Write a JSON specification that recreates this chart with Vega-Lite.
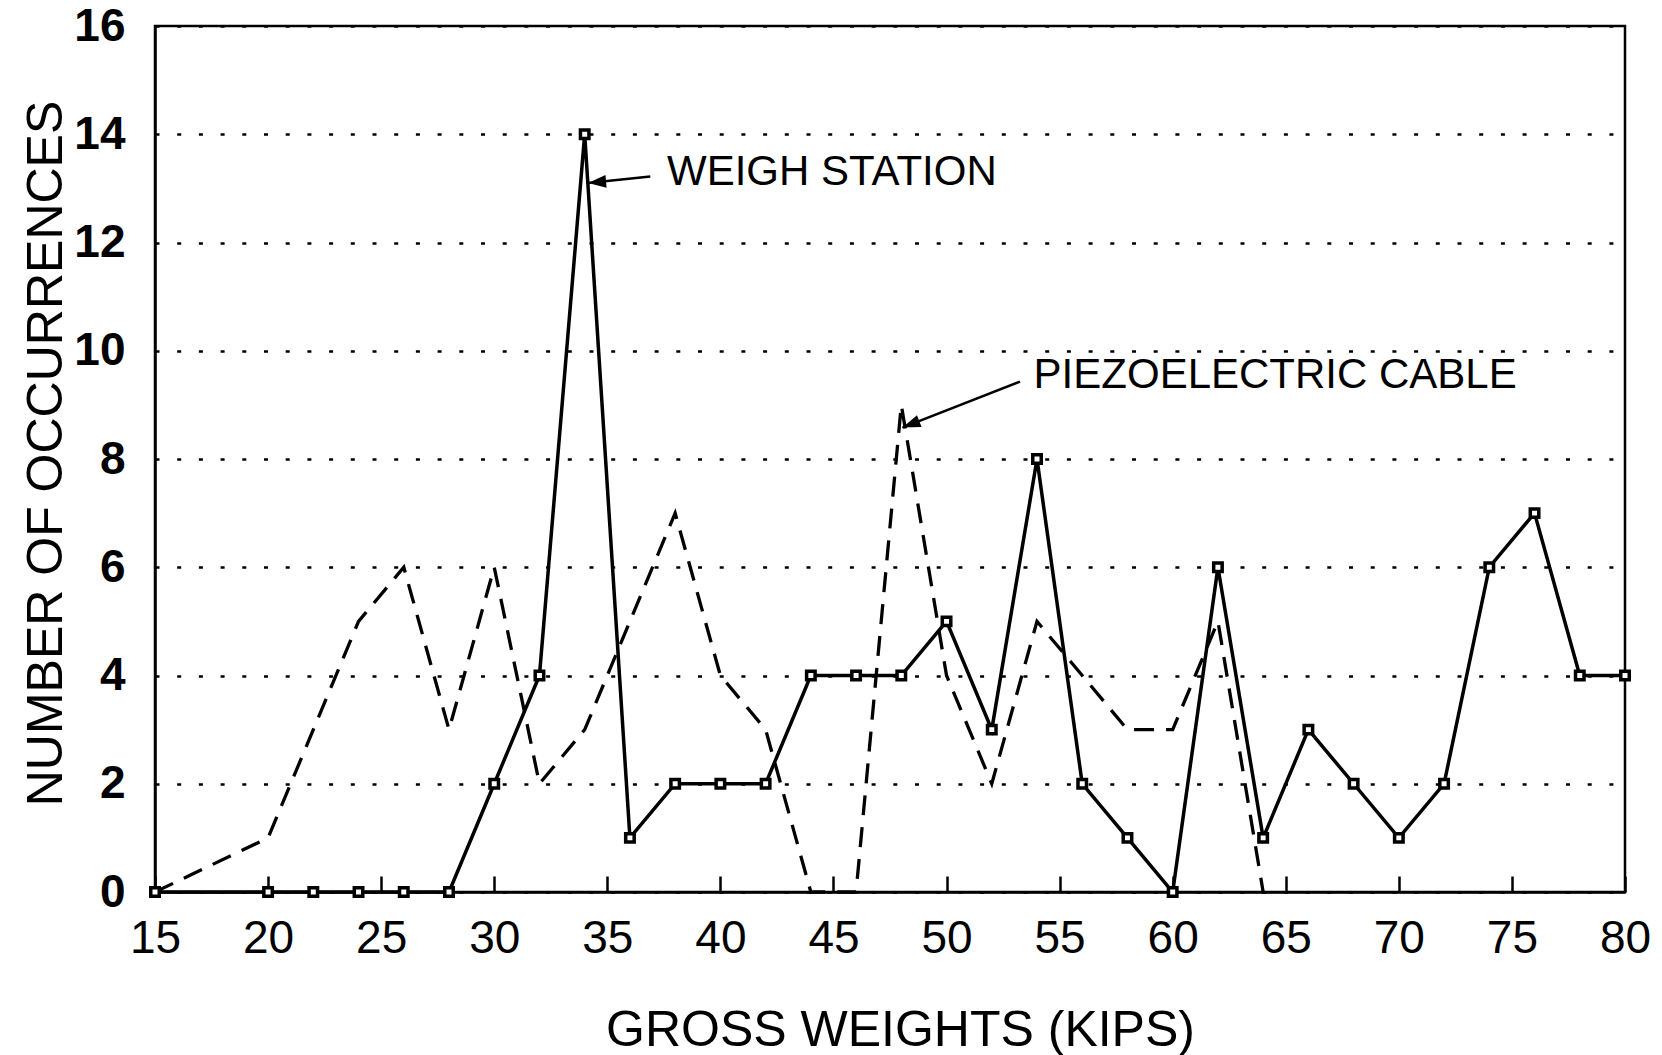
{
  "$schema": "https://vega.github.io/schema/vega-lite/v6.json",
  "width": 1470,
  "height": 866,
  "autosize": {"type": "none"},
  "padding": {"left": 155, "top": 26, "right": 37, "bottom": 163},
  "background": "white",
  "config": {
    "view": {"stroke": "black", "strokeWidth": 2.5},
    "font": "Liberation Sans",
    "axis": {
      "labelFont": "Liberation Sans",
      "titleFont": "Liberation Sans",
      "labelColor": "black",
      "titleColor": "black",
      "domainColor": "black",
      "domainWidth": 2.5,
      "labelFontSize": 46,
      "titleFontSize": 50,
      "titleFontWeight": "normal"
    }
  },
  "datasets": {
    "series": [
      {"src": "pc", "x": 15, "y": 0}, {"src": "pc", "x": 20, "y": 1}, {"src": "pc", "x": 22, "y": 3},
      {"src": "pc", "x": 24, "y": 5}, {"src": "pc", "x": 26, "y": 6}, {"src": "pc", "x": 28, "y": 3},
      {"src": "pc", "x": 30, "y": 6}, {"src": "pc", "x": 32, "y": 2}, {"src": "pc", "x": 34, "y": 3},
      {"src": "pc", "x": 36, "y": 5}, {"src": "pc", "x": 38, "y": 7}, {"src": "pc", "x": 40, "y": 4},
      {"src": "pc", "x": 42, "y": 3}, {"src": "pc", "x": 44, "y": 0}, {"src": "pc", "x": 46, "y": 0},
      {"src": "pc", "x": 48, "y": 9}, {"src": "pc", "x": 50, "y": 4}, {"src": "pc", "x": 52, "y": 2},
      {"src": "pc", "x": 54, "y": 5}, {"src": "pc", "x": 56, "y": 4}, {"src": "pc", "x": 58, "y": 3},
      {"src": "pc", "x": 60, "y": 3}, {"src": "pc", "x": 62, "y": 5}, {"src": "pc", "x": 64, "y": 0},
      {"src": "ws", "x": 15, "y": 0}, {"src": "ws", "x": 20, "y": 0}, {"src": "ws", "x": 22, "y": 0},
      {"src": "ws", "x": 24, "y": 0}, {"src": "ws", "x": 26, "y": 0}, {"src": "ws", "x": 28, "y": 0},
      {"src": "ws", "x": 30, "y": 2}, {"src": "ws", "x": 32, "y": 4}, {"src": "ws", "x": 34, "y": 14},
      {"src": "ws", "x": 36, "y": 1}, {"src": "ws", "x": 38, "y": 2}, {"src": "ws", "x": 40, "y": 2},
      {"src": "ws", "x": 42, "y": 2}, {"src": "ws", "x": 44, "y": 4}, {"src": "ws", "x": 46, "y": 4},
      {"src": "ws", "x": 48, "y": 4}, {"src": "ws", "x": 50, "y": 5}, {"src": "ws", "x": 52, "y": 3},
      {"src": "ws", "x": 54, "y": 8}, {"src": "ws", "x": 56, "y": 2}, {"src": "ws", "x": 58, "y": 1},
      {"src": "ws", "x": 60, "y": 0}, {"src": "ws", "x": 62, "y": 6}, {"src": "ws", "x": 64, "y": 1},
      {"src": "ws", "x": 66, "y": 3}, {"src": "ws", "x": 68, "y": 2}, {"src": "ws", "x": 70, "y": 1},
      {"src": "ws", "x": 72, "y": 2}, {"src": "ws", "x": 74, "y": 6}, {"src": "ws", "x": 76, "y": 7},
      {"src": "ws", "x": 78, "y": 4}, {"src": "ws", "x": 80, "y": 4}
    ],
    "notes": [
      {"label": "WEIGH STATION", "x": 37.64, "y": 13.3},
      {"label": "PIEZOELECTRIC CABLE", "x": 53.85, "y": 9.55}
    ],
    "arrows": [
      {"arrow": "ws", "x": 36.9, "y": 13.22, "x2": 34.15, "y2": 13.1},
      {"arrow": "pc", "x": 53.25, "y": 9.43, "x2": 48.05, "y2": 8.58}
    ],
    "heads": [
      {"arrow": "ws", "x": 34.15, "y": 13.1},
      {"arrow": "pc", "x": 48.05, "y": 8.58}
    ]
  },
  "encoding": {
    "x": {
      "field": "x", "type": "quantitative",
      "scale": {"domain": [15, 80], "nice": false, "zero": false},
      "axis": {
        "title": "GROSS WEIGHTS (KIPS)",
        "values": [15, 20, 25, 30, 35, 40, 45, 50, 55, 60, 65, 70, 75, 80],
        "grid": false,
        "tickSize": -16,
        "tickWidth": 2.5,
        "tickColor": "black",
        "labelPadding": 40,
        "labelFlush": false,
        "labelOverlap": false,
        "titleX": 745,
        "titleY": 153,
        "titleBaseline": "alphabetic"
      }
    },
    "y": {
      "field": "y", "type": "quantitative",
      "scale": {"domain": [0, 16], "nice": false},
      "axis": {
        "title": "NUMBER OF OCCURRENCES",
        "values": [0, 2, 4, 6, 8, 10, 12, 14, 16],
        "ticks": false,
        "grid": true,
        "gridColor": "black",
        "gridDash": [4, 17.7],
        "gridWidth": 2.5,
        "gridOpacity": 1,
        "labelPadding": 30,
        "labelFontWeight": "bold",
        "labelFlush": false,
        "labelOverlap": false,
        "titleX": -94,
        "titleY": 427,
        "titleBaseline": "alphabetic"
      }
    }
  },
  "layer": [
    {
      "data": {"name": "series"},
      "transform": [{"filter": "datum.src === 'pc'"}],
      "mark": {"type": "line", "color": "black", "strokeWidth": 3.3, "strokeDash": [20, 12]}
    },
    {
      "data": {"name": "series"},
      "transform": [{"filter": "datum.src === 'ws'"}],
      "mark": {"type": "line", "color": "black", "strokeWidth": 3.5}
    },
    {
      "data": {"name": "series"},
      "transform": [{"filter": "datum.src === 'ws'"}],
      "mark": {"type": "point", "shape": "square", "filled": true, "fill": "white", "stroke": "black", "strokeWidth": 3.5, "size": 72, "opacity": 1}
    },
    {
      "data": {"name": "arrows"},
      "mark": {"type": "rule", "color": "black", "strokeWidth": 2.5},
      "encoding": {
        "x2": {"field": "x2"},
        "y2": {"field": "y2"}
      }
    },
    {
      "data": {"name": "heads"},
      "transform": [{"filter": "datum.arrow === 'ws'"}],
      "mark": {"type": "point", "shape": "M0,0L0.7,2L-0.7,2Z", "filled": true, "color": "black", "size": 324, "opacity": 1, "angle": 265}
    },
    {
      "data": {"name": "heads"},
      "transform": [{"filter": "datum.arrow === 'pc'"}],
      "mark": {"type": "point", "shape": "M0,0L0.7,2L-0.7,2Z", "filled": true, "color": "black", "size": 324, "opacity": 1, "angle": 249}
    },
    {
      "data": {"name": "notes"},
      "mark": {"type": "text", "align": "left", "baseline": "middle", "font": "Liberation Sans", "fontSize": 42, "color": "black"},
      "encoding": {
        "text": {"field": "label"}
      }
    }
  ]
}
